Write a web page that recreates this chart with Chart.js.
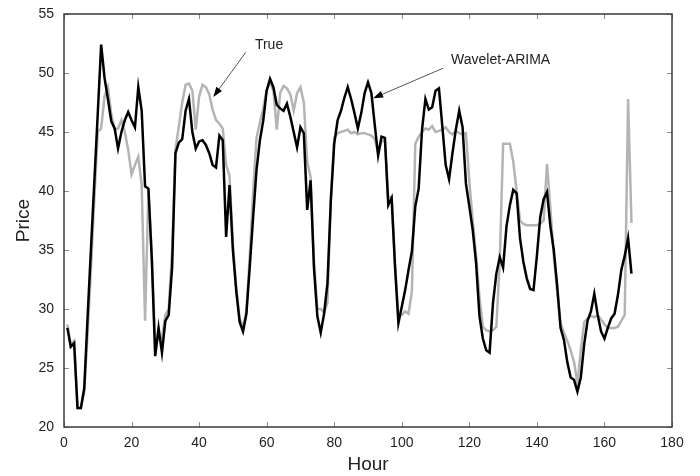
<!DOCTYPE html>
<html>
<head>
<meta charset="utf-8">
<script src="https://cdn.jsdelivr.net/npm/chart.js@4.4.0/dist/chart.umd.min.js"></script>
<style>
  html, body { margin: 0; padding: 0; background: #fff; }
  #wrap { width: 700px; height: 476px; }
</style>
</head>
<body>
<div id="wrap"><canvas id="myChart" width="700" height="476"></canvas></div>
<script>
// hourly prices, hours 1..168
const truePrice = [
  28.7, 27.0, 27.3, 21.6, 21.6, 23.0, 28.0, 33.5, 39.5, 45.0,
  45.3, 48.0, 48.8, 46.5, 45.2, 45.3, 46.0, 45.0, 43.5, 41.4,
  42.2, 42.9, 40.5, 29.0, 40.0, 34.5, 27.0, 27.5, 27.5, 29.5,
  30.0, 35.0, 43.5, 45.5, 47.5, 49.0, 49.1, 48.5, 45.2, 48.0,
  49.0, 48.8, 48.2, 46.9, 46.0, 45.7, 45.3, 42.2, 41.3, 35.5,
  31.8, 29.2, 28.5, 29.8, 34.5, 40.0, 44.5, 45.8, 47.0, 48.6,
  49.2, 48.5, 45.2, 48.3, 48.9, 48.7, 48.2, 46.8, 48.3, 48.8,
  47.5, 42.5, 41.2, 34.0, 30.0, 30.0, 29.7, 30.5, 39.5, 44.5,
  44.9, 45.0, 45.1, 45.2, 44.9, 45.0, 44.8, 44.9, 44.9, 44.8,
  44.7, 44.4, 43.2, 44.2, 44.3, 39.5, 39.5, 33.8, 29.5, 29.5,
  29.8, 29.6, 31.5, 44.0, 44.6, 45.0, 45.3, 45.2, 45.5, 45.0,
  45.1, 45.2, 45.4, 45.0, 44.8, 45.1, 44.9, 44.8, 44.9, 40.8,
  37.5, 34.5, 31.0, 28.5, 28.2, 28.1, 28.2, 28.5, 34.0, 44.0,
  44.0, 44.0, 42.5, 40.0, 37.5, 37.2, 37.1, 37.1, 37.1, 37.1,
  37.2, 37.5, 42.3, 38.5, 34.5, 31.5, 28.8, 28.0, 27.3, 26.5,
  25.5, 23.7, 26.5, 28.9, 29.2, 29.4, 29.3, 29.5, 29.1, 28.7,
  28.4, 28.4, 28.4, 28.5, 29.0, 29.5, 47.8, 37.3
];
const waveletArima = [
  28.4, 26.8, 27.1, 21.6, 21.6, 23.3, 29.4, 35.2, 40.9, 46.6,
  52.4, 49.6, 47.8, 45.9, 45.3, 43.6, 45.0, 46.0, 46.7, 46.0,
  45.4, 48.8, 46.8, 40.4, 40.2, 34.2, 26.0, 28.4, 26.3, 29.0,
  29.5, 33.5, 43.2, 44.1, 44.4, 46.8, 47.8, 45.0, 43.6, 44.2,
  44.3, 43.9, 43.2, 42.2, 42.0, 44.7, 44.3, 36.1, 40.5, 35.0,
  31.5, 28.9, 28.1, 29.6, 33.6, 37.8, 41.8, 44.3, 46.0, 48.5,
  49.5, 48.8, 47.3, 47.0, 46.8, 47.4, 46.3, 45.0, 43.7, 45.4,
  44.9, 38.4, 40.9, 33.5, 29.4, 28.0, 29.6, 32.2, 39.2, 44.0,
  46.0, 46.8, 47.9, 48.8, 47.8, 46.6, 45.3, 46.6, 48.3, 49.2,
  48.3, 45.6, 43.0, 44.6, 44.5, 38.8, 39.4, 33.6, 28.8, 30.2,
  31.6, 33.3, 34.9, 38.7, 40.2, 45.2, 47.8, 46.9, 47.1, 48.5,
  48.7, 45.5, 42.2, 41.0, 43.2, 45.2, 46.8, 45.4, 40.6, 38.7,
  36.7, 33.9, 29.4, 27.5, 26.5, 26.3, 30.5, 33.0, 34.4, 33.5,
  37.0, 38.8, 40.1, 39.8, 36.0, 34.0, 32.6, 31.7, 31.6, 34.5,
  37.8, 39.3, 39.9, 37.0, 35.0, 32.0, 28.4, 27.4, 25.5, 24.2,
  24.0, 23.0, 24.2, 27.0, 29.0, 29.8, 31.3, 29.5, 28.1, 27.5,
  28.4, 29.2, 29.6, 31.2, 33.3, 34.5, 36.0, 33.0
];
const hours = truePrice.map((v, i) => i + 1);

const xTicks = [0, 20, 40, 60, 80, 100, 120, 140, 160, 180];
const yTicks = [20, 25, 30, 35, 40, 45, 50, 55];

// labels with arrows, in data units
const notes = [
  { text: "True", tx: 60.7, ty: 52.4, x0: 53.8, y0: 51.75, x1: 44.2, y1: 47.97, align: "center" },
  { text: "Wavelet-ARIMA", tx: 114.6, ty: 51.07, x0: 112.2, y0: 50.4, x1: 91.5, y1: 47.86, align: "left" }
];

const FONT = "'Liberation Sans', Arial, sans-serif";

const framePlugin = {
  id: "frame",
  afterDatasetsDraw(chart) {
    const ctx = chart.ctx;
    const a = chart.chartArea;
    const x = chart.scales.x, y = chart.scales.y;
    ctx.save();
    // inward ticks on all four sides
    ctx.beginPath();
    ctx.strokeStyle = "#8c8c8c";
    ctx.lineWidth = 1;
    xTicks.forEach(function (t) {
      const px = Math.round(x.getPixelForValue(t)) + 0.5;
      ctx.moveTo(px, a.bottom); ctx.lineTo(px, a.bottom - 5);
      ctx.moveTo(px, a.top); ctx.lineTo(px, a.top + 5);
    });
    yTicks.forEach(function (t) {
      const py = Math.round(y.getPixelForValue(t)) + 0.5;
      ctx.moveTo(a.left, py); ctx.lineTo(a.left + 5, py);
      ctx.moveTo(a.right, py); ctx.lineTo(a.right - 5, py);
    });
    ctx.stroke();
    // box
    ctx.strokeStyle = "#3a3a3a";
    ctx.lineWidth = 1.5;
    ctx.strokeRect(a.left, a.top, a.right - a.left, a.bottom - a.top);

    // annotations
    notes.forEach(function (n) {
      const sx = x.getPixelForValue(n.x0), sy = y.getPixelForValue(n.y0);
      const ex = x.getPixelForValue(n.x1), ey = y.getPixelForValue(n.y1);
      const ang = Math.atan2(ey - sy, ex - sx);
      const hl = 10, hw = 3.5;
      ctx.beginPath();
      ctx.strokeStyle = "#555";
      ctx.lineWidth = 1;
      ctx.moveTo(sx, sy);
      ctx.lineTo(ex - Math.cos(ang) * hl * 0.8, ey - Math.sin(ang) * hl * 0.8);
      ctx.stroke();
      ctx.beginPath();
      ctx.fillStyle = "#000";
      ctx.moveTo(ex, ey);
      ctx.lineTo(ex - Math.cos(ang) * hl - Math.sin(ang) * hw, ey - Math.sin(ang) * hl + Math.cos(ang) * hw);
      ctx.lineTo(ex - Math.cos(ang) * hl + Math.sin(ang) * hw, ey - Math.sin(ang) * hl - Math.cos(ang) * hw);
      ctx.closePath();
      ctx.fill();
      ctx.font = "14px " + FONT;
      ctx.fillStyle = "#222";
      ctx.textAlign = n.align;
      ctx.textBaseline = "middle";
      ctx.fillText(n.text, x.getPixelForValue(n.tx), y.getPixelForValue(n.ty));
    });
    ctx.restore();
  }
};

const ctx = document.getElementById("myChart");
new Chart(ctx, {
  type: "line",
  data: {
    datasets: [
      {
        label: "Wavelet-ARIMA",
        data: hours.map((h, i) => ({ x: h, y: waveletArima[i] })),
        borderColor: "#000",
        borderWidth: 2.5,
        pointRadius: 0,
        tension: 0,
        order: 0
      },
      {
        label: "True",
        data: hours.map((h, i) => ({ x: h, y: truePrice[i] })),
        borderColor: "#b4b4b4",
        borderWidth: 2.5,
        pointRadius: 0,
        tension: 0,
        order: 1
      }
    ]
  },
  options: {
    responsive: false,
    animation: false,
    layout: { padding: { left: 12, right: 28, top: 14, bottom: 0 } },
    plugins: { legend: { display: false }, tooltip: { enabled: false } },
    scales: {
      x: {
        type: "linear",
        min: 0,
        max: 180,
        grid: { display: false },
        border: { display: false },
        afterBuildTicks: function (s) { s.ticks = xTicks.map(v => ({ value: v })); },
        afterFit: function (s) { s.height = 49; },
        ticks: { color: "#222", padding: 0, maxRotation: 0, font: { family: FONT, size: 14 } },
        title: { display: true, text: "Hour", color: "#222", padding: 0, font: { family: FONT, size: 19 } }
      },
      y: {
        min: 20,
        max: 55,
        grid: { display: false },
        border: { display: false },
        afterBuildTicks: function (s) { s.ticks = yTicks.map(v => ({ value: v })); },
        afterFit: function (s) { s.width = 52; },
        ticks: { color: "#222", padding: 2, font: { family: FONT, size: 14 } },
        title: { display: true, text: "Price", color: "#222", padding: 0, font: { family: FONT, size: 19 } }
      }
    }
  },
  plugins: [framePlugin]
});
</script>
</body>
</html>
